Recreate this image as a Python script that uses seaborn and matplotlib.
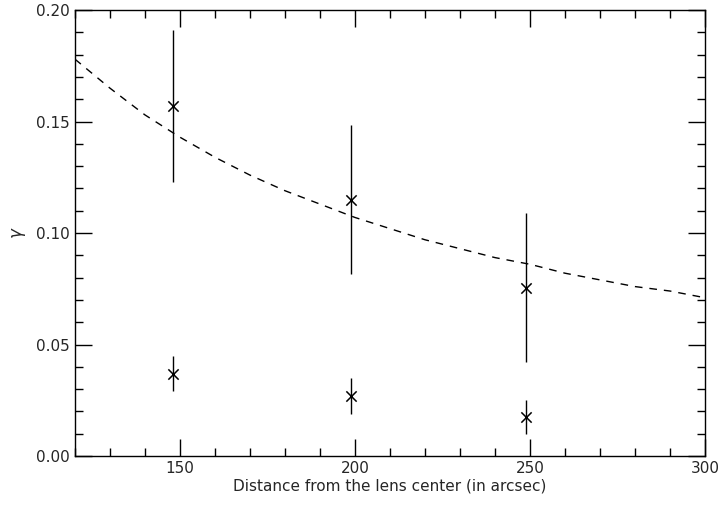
import numpy as np
import pandas as pd
import matplotlib
matplotlib.use("Agg")
import matplotlib.pyplot as plt
import seaborn as sns
from matplotlib.ticker import MultipleLocator

# measured shear points (upper and lower sets)
radius = [148, 199, 249]
gamma_hi = [0.157, 0.115, 0.0755]
err_hi = [0.034, 0.0335, 0.0335]
gamma_lo = [0.037, 0.027, 0.0175]
err_lo = [0.008, 0.008, 0.0075]

# dashed model curve
model_r = [120, 130, 140, 150, 160, 170, 180, 190, 200, 210,
           220, 230, 240, 250, 260, 270, 280, 290, 300]
model_g = [0.178, 0.165, 0.153, 0.143, 0.134, 0.126, 0.119, 0.113, 0.107, 0.102,
           0.097, 0.093, 0.089, 0.086, 0.082, 0.079, 0.076, 0.074, 0.071]

sns.set_style("ticks")
plt.rcParams['font.family'] = ['DejaVu Sans']

fig = plt.figure(figsize=(7.26, 5.08), dpi=100)
ax = fig.add_axes([0.1033, 0.1024, 0.8677, 0.8776])

df_model = pd.DataFrame({"r": model_r, "g": model_g})
sns.lineplot(data=df_model, x="r", y="g", ax=ax, color="black", lw=1.0,
             linestyle=(0, (5.5, 5)))

pts = pd.DataFrame({"r": radius * 2, "g": gamma_hi + gamma_lo, "e": err_hi + err_lo})
ax.errorbar(pts["r"], pts["g"], yerr=pts["e"], fmt="none", ecolor="black",
            elinewidth=1.0, capsize=0)
sns.scatterplot(data=pts, x="r", y="g", ax=ax, marker="x", s=55, color="black",
                linewidth=1.1, zorder=5)

ax.set_xlim(120, 300)
ax.set_ylim(0, 0.20)
ax.xaxis.set_major_locator(MultipleLocator(50))
ax.xaxis.set_minor_locator(MultipleLocator(10))
ax.yaxis.set_major_locator(MultipleLocator(0.05))
ax.yaxis.set_minor_locator(MultipleLocator(0.01))
ax.set_xticks([150, 200, 250, 300])
ax.set_yticks([0.0, 0.05, 0.10, 0.15, 0.20])
ax.set_yticklabels(["0.00", "0.05", "0.10", "0.15", "0.20"])

ax.tick_params(which="both", direction="in", top=True, right=True,
               labelsize=11, color="black")
ax.tick_params(which="major", length=12, width=1)
ax.tick_params(which="minor", length=6, width=1)
for s in ax.spines.values():
    s.set_linewidth(1.0)
    s.set_color("black")

ax.set_xlabel("Distance from the lens center (in arcsec)", fontsize=11, labelpad=2)
ax.set_ylabel(r"$\gamma$", fontsize=12, labelpad=6)

fig.savefig("out.png", dpi=100)
